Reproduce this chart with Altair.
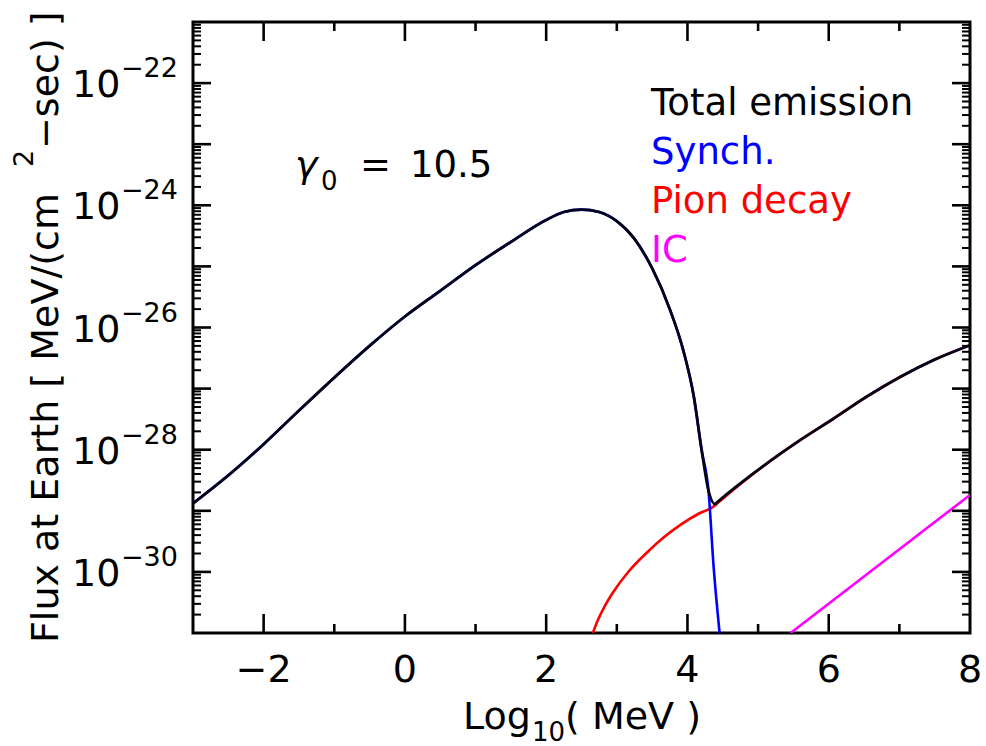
import altair as alt
import pandas as pd

# ---------------- data (x = log10 MeV, y = log10 flux) ----------------
total_x = [-3.0, -2.5, -2.0, -1.5, -1.0, -0.5, 0.0, 0.5, 1.0, 1.5, 2.0, 2.25, 2.5,
           2.75, 3.0, 3.25, 3.5, 3.75, 3.94, 4.09, 4.20, 4.30, 4.39, 4.42,
           5.13, 5.60, 6.07, 6.54, 7.01, 7.49, 8.0]
total_y = [-28.88, -28.42, -27.91, -27.36, -26.82, -26.30, -25.82, -25.40, -24.98, -24.60,
           -24.24, -24.11, -24.07, -24.11, -24.26, -24.55, -25.03, -25.70, -26.37, -27.13,
           -28.00, -28.68, -28.89, -28.86, -28.22, -27.84, -27.49, -27.13, -26.81, -26.53,
           -26.29]

synch_x = [-3.0, -2.5, -2.0, -1.5, -1.0, -0.5, 0.0, 0.5, 1.0, 1.5, 2.0, 2.25, 2.5,
           2.75, 3.0, 3.25, 3.5, 3.75, 3.94, 4.09, 4.20, 4.30, 4.37, 4.455]
synch_y = [-28.88, -28.42, -27.91, -27.36, -26.82, -26.30, -25.82, -25.40, -24.98, -24.60,
           -24.24, -24.11, -24.07, -24.11, -24.26, -24.55, -25.03, -25.70, -26.37, -27.13,
           -28.00, -28.70, -29.91, -31.0]

pion_x = [2.66, 2.72, 2.82, 2.95, 3.17, 3.42, 3.67, 3.90, 4.17, 4.37, 4.42,
          5.13, 5.60, 6.07, 6.54, 7.01, 7.49, 8.0]
pion_y = [-31.0, -30.82, -30.58, -30.33, -29.99, -29.69, -29.43, -29.23, -29.04, -28.93,
          -28.88, -28.22, -27.84, -27.49, -27.13, -26.81, -26.53, -26.29]

ic_x = [5.46, 8.0]
ic_y = [-31.0, -28.74]

x_tick_labels = [-2, 0, 2, 4, 6, 8]
x_major_ticks = [-2, 0, 2, 4, 6]
x_minor_ticks = [-1, 1, 3, 5, 7]
y_label_exps = [-22, -24, -26, -28, -30]
y_major_exps = list(range(-30, -21))
y_minor_decades = list(range(-31, -21))
y_minor_mult = [2, 3, 4, 5, 6, 7, 8, 9]

legend_text = ["Total emission", "Synch.", "Pion decay", "IC"]
legend_color = ["black", "#0000ff", "#ff0000", "#ff00ff"]

FONT = "DejaVu Sans"
W, H = 777, 611

xs = alt.Scale(domain=[-3, 8], nice=False, zero=False)
ys = alt.Scale(type="log", domain=[1e-31, 1e-21], nice=False)


def series(xv, yv):
    return pd.DataFrame({"x": xv, "flux": [10.0 ** v for v in yv]})


def line(df, color, width):
    return alt.Chart(df).mark_line(color=color, strokeWidth=width, clip=True,
                                   interpolate="monotone").encode(
        x=alt.X("x:Q", scale=xs, axis=None),
        y=alt.Y("flux:Q", scale=ys, axis=None),
    )


layers = []
layers.append(line(series(ic_x, ic_y), "#ff00ff", 2.6))
layers.append(line(series(pion_x, pion_y), "#ff0000", 2.6))
layers.append(line(series(synch_x, synch_y), "#0000ff", 2.6))
layers.append(line(series(total_x, total_y), "#05051a", 2.8))

# ---------------- ticks (inward, on all four sides) ----------------
ymaj = pd.DataFrame({"v": [10.0 ** e for e in y_major_exps]})
ymin = pd.DataFrame({"v": [m * 10.0 ** e for e in y_minor_decades for m in y_minor_mult]})
xmaj = pd.DataFrame({"v": x_major_ticks})
xmin = pd.DataFrame({"v": x_minor_ticks})


def ytick(df, x0, x1, w):
    return alt.Chart(df).mark_rule(color="black", strokeWidth=w).encode(
        y=alt.Y("v:Q", scale=ys, axis=None), x=alt.value(x0), x2=alt.value(x1))


def xtick(df, y0, y1):
    return alt.Chart(df).mark_rule(color="black", strokeWidth=2.6).encode(
        x=alt.X("v:Q", scale=xs, axis=None), y=alt.value(y0), y2=alt.value(y1))


layers += [
    ytick(ymaj, 0, 18, 2.6), ytick(ymin, 0, 8, 2.0),
    ytick(ymaj, W - 18, W, 2.6), ytick(ymin, W - 8, W, 2.0),
    xtick(xmaj, H - 19, H), xtick(xmin, H - 9, H),
    xtick(xmaj, 0, 19), xtick(xmin, 0, 9),
]

# ---------------- x tick labels ----------------
xlab = pd.DataFrame({
    "v": x_tick_labels,
    "t": [("\u2212" + str(-v)) if v < 0 else str(v) for v in x_tick_labels],
})
layers.append(alt.Chart(xlab).mark_text(align="center", baseline="alphabetic", font=FONT,
                                        fontSize=38, color="black").encode(
    x=alt.X("v:Q", scale=xs, axis=None), y=alt.value(H + 49), text="t:N"))

# ---------------- y tick labels: 10^n ----------------
ylab = pd.DataFrame({
    "flux": [10.0 ** e for e in y_label_exps],
    "base": ["10"] * len(y_label_exps),
    "sup": ["\u2212" + str(-e) for e in y_label_exps],
})
layers.append(alt.Chart(ylab).mark_text(align="left", baseline="alphabetic", font=FONT,
                                        fontSize=38, dy=14, color="black").encode(
    y=alt.Y("flux:Q", scale=ys, axis=None), x=alt.value(-121), text="base:N"))
layers.append(alt.Chart(ylab).mark_text(align="left", baseline="alphabetic", font=FONT,
                                        fontSize=27, dy=-6, color="black").encode(
    y=alt.Y("flux:Q", scale=ys, axis=None), x=alt.value(-72), text="sup:N"))


def label(txt, x, y, size=37, color="black", angle=0, style="normal", align="left"):
    df = pd.DataFrame({"t": [txt]})
    kw = dict(align=align, baseline="alphabetic", font=FONT, fontSize=size, color=color,
              fontStyle=style)
    if angle:
        kw["angle"] = angle
    return alt.Chart(df).mark_text(**kw).encode(x=alt.value(x), y=alt.value(y), text="t:N")


# ---------------- axis titles ----------------
layers += [
    label("Log", 270, 707, 38),
    label("10", 339, 719, 26),
    label("( MeV )", 372, 707, 38),
]
# y title, rotated (reads bottom to top)
A = "Flux at Earth  [  MeV/(cm"
layers += [
    label(A, -135, 621, 38, angle=270),
    label("2", -160, 621 - 476, 27, angle=270),
    label("\u2212sec) ]", -135, 621 - 476 - 18, 38, angle=270),
]

# ---------------- annotations ----------------
layers += [
    label("\u03b3", 102, 155, 38, style="italic"),
    label("0", 128, 168, 26),
    label("=", 167, 155, 37),
    label("10.5", 217, 155, 37),
]
for i, (t, c) in enumerate(zip(legend_text, legend_color)):
    layers.append(label(t, 458, 93 + 49 * i, 37, color=c))

chart = alt.layer(*layers).properties(
    width=W, height=H,
    padding={"left": 193, "top": 22, "right": 16, "bottom": 113},
    autosize=alt.AutoSizeParams(type="none"),
    background="white",
).configure_view(stroke="black", strokeWidth=3)

chart.save("out.html", embed_options={"renderer": "svg", "actions": False})
